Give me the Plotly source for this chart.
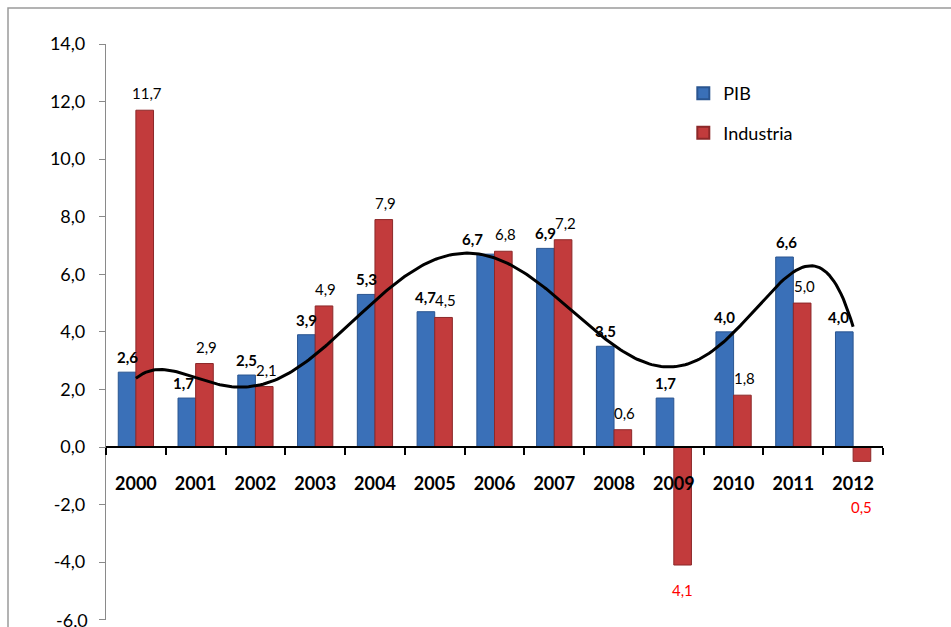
import numpy as np
import plotly.graph_objects as go

years = ["2000", "2001", "2002", "2003", "2004", "2005", "2006",
         "2007", "2008", "2009", "2010", "2011", "2012"]
pib = [2.6, 1.7, 2.5, 3.9, 5.3, 4.7, 6.7, 6.9, 3.5, 1.7, 4.0, 6.6, 4.0]
industria = [11.7, 2.9, 2.1, 4.9, 7.9, 4.5, 6.8, 7.2, 0.6, -4.1, 1.8, 5.0, -0.5]
y_ticks = [-6, -4, -2, 0, 2, 4, 6, 8, 10, 12, 14]

FONT = "Lato"
BLUE, BLUE_EDGE = "#3A70B8", "#2A5590"
RED, RED_EDGE = "#C23B3C", "#8C2829"

def fmt(v):
    return f"{abs(v):.1f}".replace(".", ",")

def tick_fmt(v):
    return f"{v:.1f}".replace(".", ",")

pos = list(range(len(years)))
bounds = [p - 0.5 for p in pos] + [pos[-1] + 0.5]

fig = go.Figure()
fig.add_trace(go.Bar(x=pos, y=pib, name="PIB", legendgroup="a",
                     marker=dict(color=BLUE, line=dict(color=BLUE_EDGE, width=1))))
fig.add_trace(go.Bar(x=pos, y=industria, name="Industria", legendgroup="b",
                     marker=dict(color=RED, line=dict(color=RED_EDGE, width=1))))

# Polynomial (order 6) trend line of PIB, as in the original spreadsheet chart
coef = np.polyfit(pos, pib, 6)
t = np.linspace(0, len(pib) - 1, 300)
fig.add_trace(go.Scatter(x=t, y=np.polyval(coef, t), mode="lines",
                         line=dict(color="black", width=3), showlegend=False,
                         hoverinfo="skip"))

ann = []
BAR_OFF = 8.8
pib_nudge = {1: -3, 6: -13, 11: 2, 12: -6}
for p, v in zip(pos, pib):
    ann.append(dict(x=p, y=v, text=f"<b>{fmt(v)}</b>", showarrow=False,
                    xshift=-BAR_OFF + pib_nudge.get(p, 0), yshift=4, yanchor="bottom",
                    font=dict(family=FONT, size=15, color="black")))
for p, v in zip(pos, industria):
    if v >= 0:
        ann.append(dict(x=p, y=v, text=fmt(v), showarrow=False,
                        xshift=BAR_OFF + 2, yshift=6, yanchor="bottom",
                        font=dict(family=FONT, size=15, color="black")))
    else:
        below = v if v < -1.5 else 0
        shift = -14 if v < -1.5 else -49
        ann.append(dict(x=p, y=below, text=fmt(v), showarrow=False,
                        xshift=BAR_OFF, yshift=shift, yanchor="top",
                        font=dict(family=FONT, size=15, color="#FF0000")))

# bottom tick label (partly cut by the page edge, as in the original)
ann.append(dict(x=0, xref="paper", y=y_ticks[0], yref="y", text=tick_fmt(y_ticks[0]),
                showarrow=False, xanchor="right", xshift=-16, yanchor="middle",
                font=dict(family=FONT, size=18, color="black")))

fig.update_layout(
    width=951, height=627,
    margin=dict(l=106, r=68, t=44, b=7),
    paper_bgcolor="white", plot_bgcolor="white",
    barmode="group", bargap=0.41, bargroupgap=0,
    font=dict(family=FONT, color="black"),
    xaxis=dict(range=[-0.5, len(years) - 0.5], anchor="free", position=0.3,
               tickvals=pos, ticktext=years, ticks="",
               minor=dict(tickvals=bounds, ticks="outside", ticklen=7,
                          tickcolor="black", tickwidth=1.5, showgrid=False),
               showline=True, linecolor="black", linewidth=1.5,
               showgrid=False, zeroline=False,
               tickfont=dict(family=FONT, size=18, color="black", weight="bold"),
               ticklabelstandoff=20),
    yaxis=dict(range=[-6.01, 14], tickvals=y_ticks,
               ticktext=[tick_fmt(v) for v in y_ticks],
               showline=True, linecolor="#8A8A8A", linewidth=1.2,
               ticks="outside", ticklen=6, tickcolor="#8A8A8A",
               showgrid=False, zeroline=False, ticklabelstandoff=10,
               tickfont=dict(family=FONT, size=18, color="black")),
    legend=dict(x=0.743, y=0.946, xanchor="left", yanchor="top",
                font=dict(family=FONT, size=18, color="black"),
                traceorder="grouped", itemsizing="constant", tracegroupgap=13,
                bgcolor="rgba(0,0,0,0)"),
    annotations=ann,
    shapes=[dict(type="rect", xref="paper", yref="paper",
                 x0=(8 - 106) / 777, x1=(960 - 106) / 777,
                 y0=-0.1, y1=(620 - 8) / 576,
                 line=dict(color="#9A9A9A", width=1.5), fillcolor="rgba(0,0,0,0)",
                 layer="below")],
)

fig.write_html("out.html")
